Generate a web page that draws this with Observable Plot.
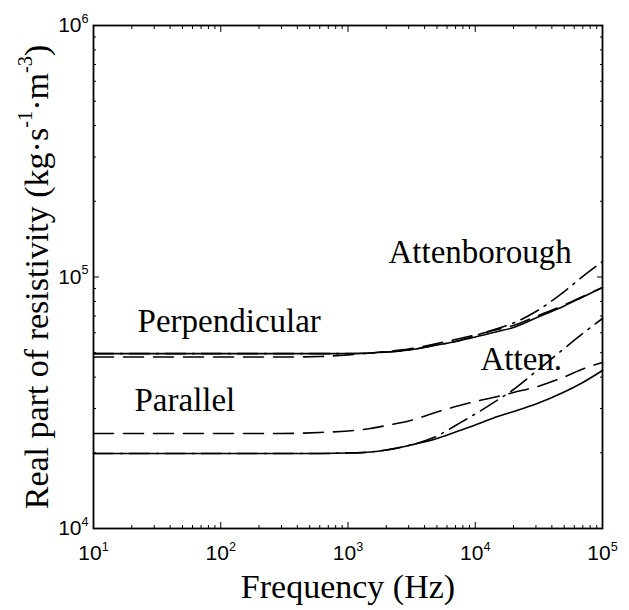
<!DOCTYPE html>
<html><head><meta charset="utf-8">
<script src="https://cdn.jsdelivr.net/npm/d3@7"></script>
<script src="https://cdn.jsdelivr.net/npm/@observablehq/plot@0.6"></script>
<style>body{margin:0;background:#fff} #chart{width:629px;height:610px}</style>
</head><body><div id="chart"></div>
<script>
// Frequencies (Hz) at which the curves were read
const freq = [10, 100, 300, 600, 1000, 1500, 2000, 3000, 5000, 7000, 10000, 15000, 20000, 30000, 50000, 70000, 100000];
// Perpendicular group (kg·s^-1·m^-3)
const perpSolid = [49600, 49600, 49600, 49600, 49600, 49850, 50300, 51250, 53650, 55400, 57700, 60700, 63000, 68700, 76700, 83300, 90800];
const perpDashed = [48070, 48070, 48070, 48300, 48970, 49850, 50550, 51720, 54390, 56430, 58800, 61850, 64150, 69650, 77400, 83660, 90800];
const perpDashDot = [49600, 49600, 49600, 49600, 49600, 49850, 50300, 51250, 53650, 55400, 58530, 62400, 65630, 72900, 87560, 100500, 115250];
// Parallel group
const paraSolid = [19870, 19870, 19870, 19870, 19960, 20150, 20520, 21380, 22790, 24200, 25790, 27880, 29190, 31260, 34890, 38060, 42480];
const paraDashed = [23870, 23870, 23870, 24090, 24420, 24980, 25680, 26760, 29060, 30550, 31990, 33490, 34740, 36530, 40040, 43070, 45710];
const paraDashDot = [19870, 19870, 19870, 19870, 19960, 20150, 20520, 21380, 23300, 25680, 28530, 32440, 35700, 42100, 51950, 59600, 68390];

// Axis ticks
const xMajorTicks = [10, 100, 1000, 10000, 100000];
const yMajorTicks = [10000, 100000, 1000000];
const minorMultipliers = [2, 3, 4, 5, 6, 7, 8, 9];
const xDecades = [10, 100, 1000, 10000];
const yDecades = [10000, 100000];

// Annotations
const labelTexts = ["Perpendicular", "Parallel", "Attenborough", "Atten."];
const labelFreqs = [22.2, 21.0, 2080, 11000];
const labelValues = [60700, 29200, 113200, 42500];

const xTitle = "Frequency (Hz)";
const yTitle = "Real part of resistivity (kg\u00b7s^{-1}\u00b7m^{-3})";

const seriesDefs = [
  {name: "perpSolid", values: perpSolid, dash: null},
  {name: "perpDashed", values: perpDashed, dash: "20,10"},
  {name: "perpDashDot", values: perpDashDot, dash: "20,7,2,7"},
  {name: "paraSolid", values: paraSolid, dash: null},
  {name: "paraDashed", values: paraDashed, dash: "20,10"},
  {name: "paraDashDot", values: paraDashDot, dash: "20,7,2,7"}
];

const xMinor = xDecades.flatMap(d => minorMultipliers.map(m => d * m));
const yMinor = yDecades.flatMap(d => minorMultipliers.map(m => d * m));
const labels = labelTexts.map((t, i) => ({t, f: labelFreqs[i], v: labelValues[i]}));
const supFmt = d => `10^{${Math.round(Math.log10(d))}}`;
const blank = () => "";

const lineMarks = seriesDefs.map(s =>
  Plot.line(freq.map((f, i) => ({f, v: s.values[i]})), {
    x: "f", y: "v", stroke: "#000", strokeWidth: 1.6, curve: "monotone-x",
    strokeDasharray: s.dash ?? undefined
  })
);

const tickMarks = [];
for (const anchor of ["bottom", "top"]) {
  tickMarks.push(Plot.axisX(xMajorTicks, {anchor, tickSize: -6, tickFormat: blank, label: null}));
  tickMarks.push(Plot.axisX(xMinor, {anchor, tickSize: -3, tickFormat: blank, label: null}));
}
for (const anchor of ["left", "right"]) {
  tickMarks.push(Plot.axisY(yMajorTicks, {anchor, tickSize: -6, tickFormat: blank, label: null}));
  tickMarks.push(Plot.axisY(yMinor, {anchor, tickSize: -3, tickFormat: blank, label: null}));
}

const chart = Plot.plot({
  width: 629, height: 610,
  marginTop: 25, marginRight: 27, marginBottom: 82, marginLeft: 93,
  x: {type: "log", domain: [10, 100000], label: null},
  y: {type: "log", domain: [10000, 1000000], label: null},
  style: {background: "#fff", color: "#000"},
  marks: [
    ...tickMarks,
    Plot.axisX(xMajorTicks, {anchor: "bottom", tickSize: 0, tickPadding: 17, tickFormat: supFmt, fontSize: 21, fontFamily: "Liberation Sans", label: null}),
    Plot.axisY(yMajorTicks, {anchor: "left", tickSize: 0, tickPadding: 5, tickFormat: supFmt, fontSize: 21, fontFamily: "Liberation Sans", label: null}),
    ...lineMarks,
    Plot.text(labels, {x: "f", y: "v", text: "t", textAnchor: "start", lineAnchor: "bottom", fontSize: 33, fontFamily: "Liberation Serif", fill: "#000"}),
    Plot.text([xTitle], {text: d => d, frameAnchor: "bottom", textAnchor: "middle", dy: 69, lineAnchor: "bottom", fontSize: 34, fontFamily: "Liberation Serif", fill: "#000"}),
    Plot.text([yTitle], {text: d => d, frameAnchor: "left", textAnchor: "middle", rotate: -90, dx: -46, lineAnchor: "bottom", fontSize: 34, fontFamily: "Liberation Serif", fill: "#000"}),
    Plot.frame({stroke: "#000", strokeWidth: 1.8})
  ]
});
document.getElementById("chart").appendChild(chart);

// Render "^{...}" as superscript tspans
d3.select(chart).selectAll("text").each(function() {
  const t = this.textContent;
  if (!t.includes("^{")) return;
  const fs = parseFloat(getComputedStyle(this).fontSize) || 16;
  const parts = t.split(/(\^\{[^}]*\})/);
  this.textContent = "";
  let shifted = false;
  for (const p of parts) {
    if (!p) continue;
    const ts = document.createElementNS("http://www.w3.org/2000/svg", "tspan");
    if (p.startsWith("^{")) {
      ts.textContent = p.slice(2, -1);
      ts.setAttribute("font-size", fs * 0.6);
      ts.setAttribute("dy", -fs * 0.45);
      shifted = true;
    } else {
      ts.textContent = p;
      if (shifted) { ts.setAttribute("dy", fs * 0.45); shifted = false; }
    }
    this.appendChild(ts);
  }
});
</script></body></html>
